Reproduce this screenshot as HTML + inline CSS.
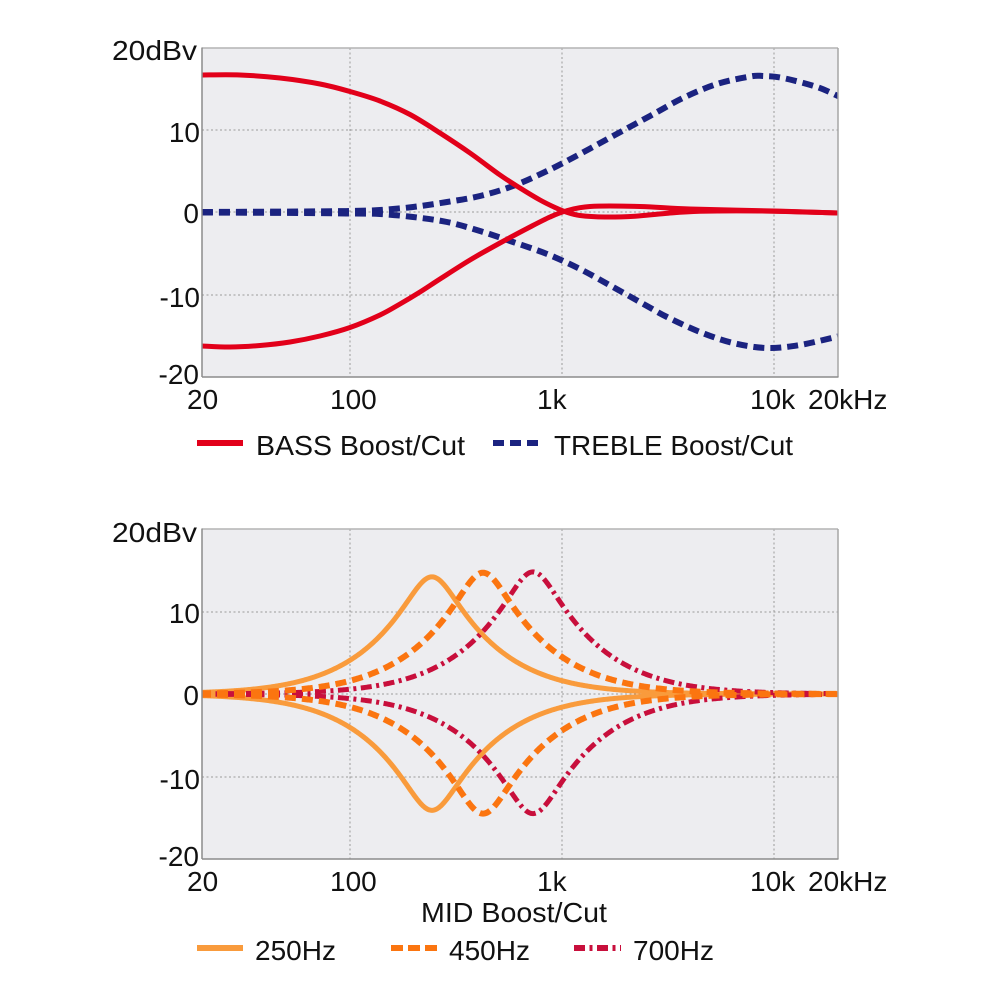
<!DOCTYPE html>
<html>
<head>
<meta charset="utf-8">
<style>
  html,body{margin:0;padding:0;background:#fff;}
  svg{display:block;}
  text{font-family:"Liberation Sans",Arial,sans-serif;font-size:28px;fill:#111;}
</style>
</head>
<body>
<svg id="s" width="1000" height="1000" viewBox="0 0 1000 1000" xmlns="http://www.w3.org/2000/svg">
  <defs>
    <clipPath id="c1"><rect x="202" y="48" width="636" height="329"/></clipPath>
    <clipPath id="c2"><rect x="202" y="529" width="636" height="330"/></clipPath>
  </defs>

  <!-- TOP PLOT -->
  <rect x="202" y="48" width="636" height="329" fill="#ededf0"/>
  <g stroke="#9a9a9a" stroke-width="1" stroke-dasharray="2 2.5" fill="none">
    <line x1="350" y1="48" x2="350" y2="377"/>
    <line x1="562" y1="48" x2="562" y2="377"/>
    <line x1="774" y1="48" x2="774" y2="377"/>
    <line x1="202" y1="130" x2="838" y2="130"/>
    <line x1="202" y1="212" x2="838" y2="212"/>
    <line x1="202" y1="295" x2="838" y2="295"/>
  </g>
  <g clip-path="url(#c1)" fill="none">
    <path id="tb1" stroke="#1b2380" stroke-width="6" stroke-dasharray="11 6"/>
    <path id="tb2" stroke="#1b2380" stroke-width="6" stroke-dasharray="11 6"/>
    <path id="bs1" stroke="#e2001a" stroke-width="5"/>
    <path id="bs2" stroke="#e2001a" stroke-width="5"/>
  </g>
  <line x1="202" y1="48" x2="838" y2="48" stroke="#b4b4b4" stroke-width="1.5"/>
  <line x1="838" y1="48" x2="838" y2="377" stroke="#a6a6a6" stroke-width="1.5"/>
  <line x1="202" y1="47.5" x2="202" y2="377" stroke="#8c8c8c" stroke-width="1.5"/>
  <line x1="202" y1="377" x2="838.5" y2="377" stroke="#8c8c8c" stroke-width="1.5"/>

  <g text-anchor="end">
    <text x="197" y="60" textLength="85" lengthAdjust="spacingAndGlyphs">20dBv</text>
    <text x="200" y="142">10</text>
    <text x="199" y="223">0</text>
    <text x="200" y="307">-10</text>
    <text x="199" y="384">-20</text>
  </g>
  <text x="187" y="409">20</text>
  <text x="330" y="409">100</text>
  <text x="537" y="409">1k</text>
  <text x="750" y="409">10k</text>
  <text x="808" y="409">20kHz</text>

  <line x1="197" y1="443" x2="243" y2="443" stroke="#e2001a" stroke-width="6"/>
  <text x="256" y="455" textLength="209" lengthAdjust="spacingAndGlyphs">BASS Boost/Cut</text>
  <line x1="493" y1="443" x2="541" y2="443" stroke="#1b2380" stroke-width="6" stroke-dasharray="11 6"/>
  <text x="554" y="455" textLength="239" lengthAdjust="spacingAndGlyphs">TREBLE Boost/Cut</text>

  <!-- BOTTOM PLOT -->
  <rect x="202" y="529" width="636" height="330" fill="#ededf0"/>
  <g stroke="#9a9a9a" stroke-width="1" stroke-dasharray="2 2.5" fill="none">
    <line x1="350" y1="529" x2="350" y2="859"/>
    <line x1="562" y1="529" x2="562" y2="859"/>
    <line x1="774" y1="529" x2="774" y2="859"/>
    <line x1="202" y1="612" x2="838" y2="612"/>
    <line x1="202" y1="694" x2="838" y2="694"/>
    <line x1="202" y1="777" x2="838" y2="777"/>
  </g>
  <g clip-path="url(#c2)" fill="none">
    <path id="m1a" stroke="#f99b3c" stroke-width="5"/>
    <path id="m1b" stroke="#f99b3c" stroke-width="5"/>
    <path id="m3a" stroke="#c80f3c" stroke-width="5" stroke-dasharray="11 4.5 3 4.5"/>
    <path id="m3b" stroke="#c80f3c" stroke-width="5" stroke-dasharray="11 4.5 3 4.5"/>
    <path id="m2a" stroke="#fb7510" stroke-width="6" stroke-dasharray="11 6"/>
    <path id="m2b" stroke="#fb7510" stroke-width="6" stroke-dasharray="11 6"/>
  </g>
  <line x1="202" y1="529" x2="838" y2="529" stroke="#b4b4b4" stroke-width="1.5"/>
  <line x1="838" y1="529" x2="838" y2="859" stroke="#a6a6a6" stroke-width="1.5"/>
  <line x1="202" y1="528.5" x2="202" y2="859" stroke="#8c8c8c" stroke-width="1.5"/>
  <line x1="202" y1="859" x2="838.5" y2="859" stroke="#8c8c8c" stroke-width="1.5"/>

  <g text-anchor="end">
    <text x="197" y="542" textLength="85" lengthAdjust="spacingAndGlyphs">20dBv</text>
    <text x="200" y="623">10</text>
    <text x="199" y="705">0</text>
    <text x="200" y="789">-10</text>
    <text x="199" y="866">-20</text>
  </g>
  <text x="187" y="891">20</text>
  <text x="330" y="891">100</text>
  <text x="537" y="891">1k</text>
  <text x="750" y="891">10k</text>
  <text x="808" y="891">20kHz</text>
  <text x="421" y="922" textLength="186" lengthAdjust="spacingAndGlyphs">MID Boost/Cut</text>

  <line x1="197" y1="948" x2="243" y2="948" stroke="#f99b3c" stroke-width="6"/>
  <text x="255" y="960">250Hz</text>
  <line x1="391" y1="948" x2="437" y2="948" stroke="#fb7510" stroke-width="6" stroke-dasharray="12 5"/>
  <text x="449" y="960">450Hz</text>
  <line x1="574" y1="948" x2="621" y2="948" stroke="#c80f3c" stroke-width="6" stroke-dasharray="11 4.5 3 4.5"/>
  <text x="633" y="960">700Hz</text>
</svg>

<script>
(function(){
  function cr(pts){
    var n=pts.length, d="M"+pts[0][0]+","+pts[0][1];
    for(var i=0;i<n-1;i++){
      var p0=pts[Math.max(i-1,0)],p1=pts[i],p2=pts[i+1],p3=pts[Math.min(i+2,n-1)];
      var c1x=p1[0]+(p2[0]-p0[0])/6,c1y=p1[1]+(p2[1]-p0[1])/6;
      var c2x=p2[0]-(p3[0]-p1[0])/6,c2y=p2[1]-(p3[1]-p1[1])/6;
      d+=" C"+c1x.toFixed(2)+","+c1y.toFixed(2)+" "+c2x.toFixed(2)+","+c2y.toFixed(2)+" "+p2[0]+","+p2[1];
    }
    return d;
  }
  function set(id,d){document.getElementById(id).setAttribute("d",d);}

  set("bs1",cr([[202,75],[240,75],[280,78],[320,84],[350,91.5],[380,101],[410,114.5],[440,133],[470,153],[500,175],[520,188],[540,200],[555,207.5],[566,212],[580,215.5],[605,217],[635,216.2],[665,213.5],[700,211.3],[760,211],[838,213]]));
  set("bs2",cr([[202,346],[230,347],[260,345.5],[290,342],[320,336],[350,327.5],[380,315],[400,304],[420,292],[440,279],[470,260],[500,243],[530,227],[550,217],[566,211],[590,206.5],[640,206.5],[690,209],[774,211],[838,213]]));
  set("tb1",cr([[202,212],[300,211.5],[350,211],[380,210],[413,207],[447,202],[480,196],[513,186],[547,171],[580,154],[613,136],[650,116],[683,98],[717,84],[750,76.5],[763,76],[783,78],[817,87],[840,97]]));
  set("tb2",cr([[202,212.5],[300,213],[350,213.5],[380,214],[413,217],[447,222],[480,231],[513,242],[547,254],[580,269],[613,287],[647,306],[667,317],[700,332],[733,343],[767,348],[800,345],[840,336]]));

  function peak(f,f0,G,Q){
    var A2=Math.pow(10,G/20),u=f/f0,a=(1-u*u)*(1-u*u);
    var num=a+u*u*A2/(Q*Q),den=a+u*u/(A2*Q*Q);
    return 10*Math.log10(num/den);
  }
  function mid(f0,G,Q){
    var d="";
    for(var x=200;x<=840;x+=1){
      var f=20*Math.pow(10,(x-202)/212);
      var y=694-peak(f,f0,G,Q)*8.25;
      d+=(x===200?"M":" L")+x+","+y.toFixed(2);
    }
    return d;
  }
  set("m1a",mid(243,14.2,0.85));
  set("m1b",mid(243,-14.1,0.85));
  set("m2a",mid(423,14.7,0.85));
  set("m2b",mid(423,-14.5,0.85));
  set("m3a",mid(728,14.8,0.85));
  set("m3b",mid(728,-14.5,0.85));
})();
</script>
</body>
</html>
